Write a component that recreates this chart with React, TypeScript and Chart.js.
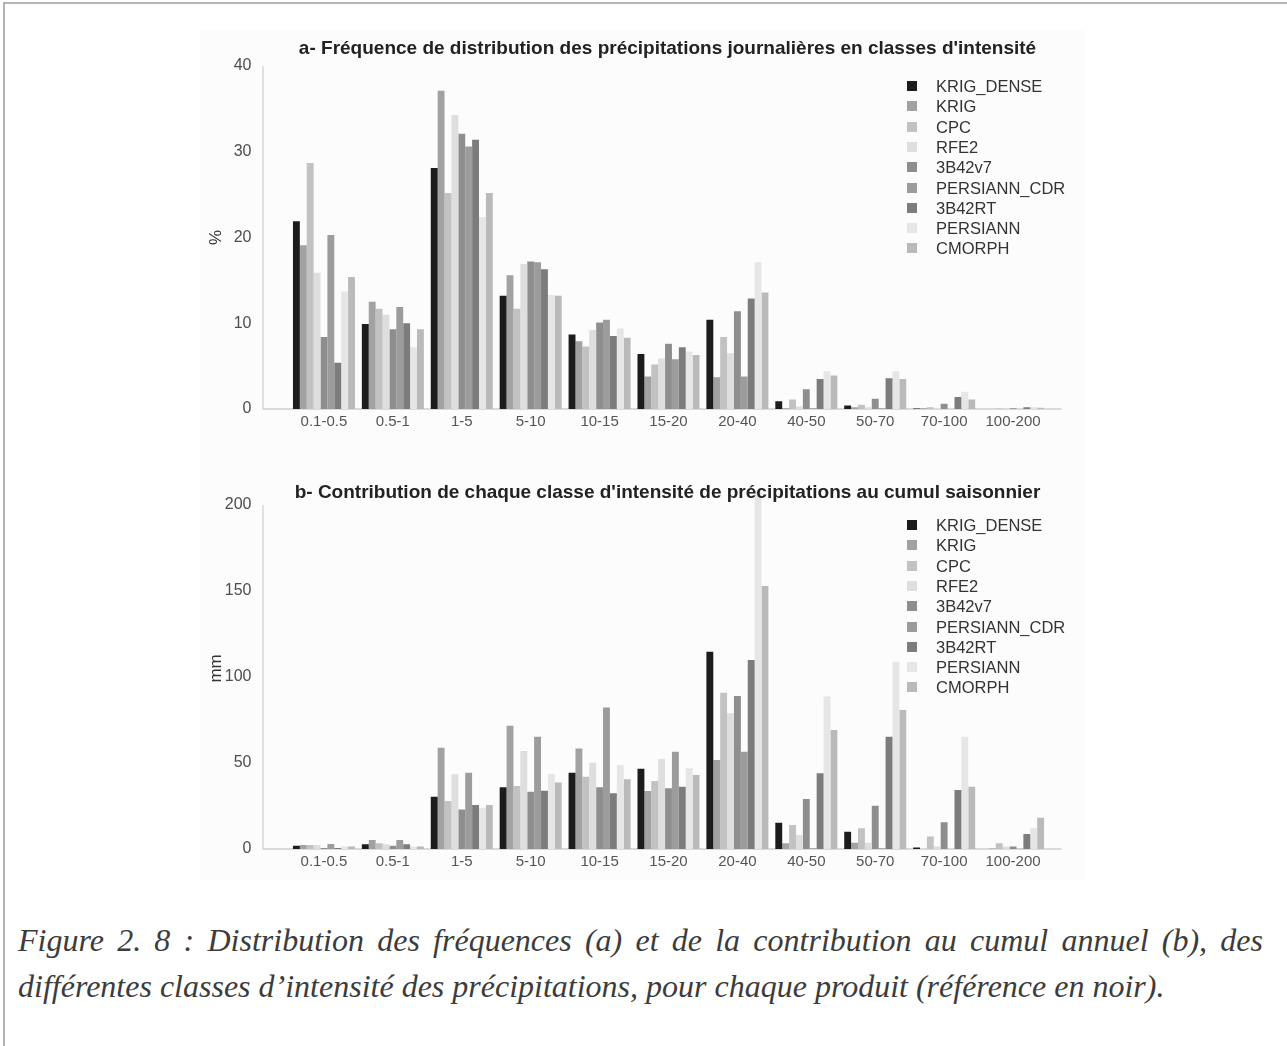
import React, { useEffect, useRef } from "react";
import { Chart, registerables } from "chart.js";

Chart.register(...registerables);

// ---------- DATA ----------
const categories = ["0.1-0.5", "0.5-1", "1-5", "5-10", "10-15", "15-20", "20-40", "40-50", "50-70", "70-100", "100-200"];

const seriesNames = ["KRIG_DENSE", "KRIG", "CPC", "RFE2", "3B42v7", "PERSIANN_CDR", "3B42RT", "PERSIANN", "CMORPH"];
const seriesColors = ["#1c1c1c", "#a2a2a2", "#c2c2c2", "#dedede", "#8e8e8e", "#9c9c9c", "#7c7c7c", "#e6e6e6", "#bababa"];

// a- frequency (%)
const freqKrigDense = [21.9, 9.9, 28.1, 13.2, 8.7, 6.4, 10.4, 0.9, 0.4, 0.05, 0.0];
const freqKrig = [19.1, 12.5, 37.1, 15.6, 7.9, 3.8, 3.7, 0.1, 0.2, 0.1, 0.0];
const freqCpc = [28.7, 11.7, 25.2, 11.7, 7.3, 5.2, 8.4, 1.1, 0.5, 0.2, 0.05];
const freqRfe2 = [15.9, 11.0, 34.3, 16.9, 9.2, 5.9, 6.5, 0.3, 0.2, 0.1, 0.05];
const freq3B42v7 = [8.4, 9.3, 32.1, 17.2, 10.1, 7.6, 11.4, 2.3, 1.2, 0.6, 0.1];
const freqPersiannCdr = [20.3, 11.9, 30.6, 17.1, 10.4, 5.8, 3.8, 0.1, 0.1, 0.0, 0.0];
const freq3B42RT = [5.4, 10.0, 31.4, 16.3, 8.5, 7.2, 12.9, 3.5, 3.6, 1.4, 0.2];
const freqPersiann = [13.7, 7.2, 22.4, 13.3, 9.4, 6.7, 17.1, 4.4, 4.4, 2.0, 0.2];
const freqCmorph = [15.4, 9.3, 25.2, 13.2, 8.3, 6.3, 13.6, 3.9, 3.5, 1.1, 0.15];

// b- contribution to seasonal total (mm)
const contribKrigDense = [1.9, 2.7, 30.4, 35.9, 44.4, 46.7, 114.7, 15.3, 10.1, 0.8, 0.0];
const contribKrig = [2.3, 5.2, 58.9, 71.7, 58.5, 33.7, 51.7, 3.3, 3.7, 0.0, 0.3];
const contribCpc = [2.3, 3.3, 27.9, 36.6, 42.0, 39.5, 90.9, 14.0, 12.0, 7.2, 3.3];
const contribRfe2 = [2.3, 2.7, 43.4, 57.0, 50.2, 52.3, 78.9, 8.1, 3.7, 1.4, 1.4];
const contrib3B42v7 = [0.6, 1.9, 23.0, 33.3, 35.9, 35.3, 88.9, 29.1, 25.2, 15.5, 1.4];
const contribPersiannCdr = [2.9, 5.2, 44.4, 65.3, 82.2, 56.6, 56.6, 0.4, 0.4, 0.0, 0.2];
const contrib3B42RT = [0.6, 2.7, 25.6, 33.9, 32.4, 36.2, 109.9, 44.0, 65.3, 34.3, 8.7];
const contribPersiann = [1.4, 1.4, 24.0, 43.6, 48.8, 46.9, 208.0, 88.6, 108.9, 65.3, 12.0];
const contribCmorph = [1.4, 1.4, 25.6, 38.6, 40.5, 43.0, 152.9, 69.2, 80.8, 36.2, 18.2];

const freqSeries = [freqKrigDense, freqKrig, freqCpc, freqRfe2, freq3B42v7, freqPersiannCdr, freq3B42RT, freqPersiann, freqCmorph];
const contribSeries = [contribKrigDense, contribKrig, contribCpc, contribRfe2, contrib3B42v7, contribPersiannCdr, contrib3B42RT, contribPersiann, contribCmorph];

const freqTicks = [0, 10, 20, 30, 40];
const contribTicks = [0, 50, 100, 150, 200];

const titleA = "a- Fréquence de distribution des précipitations journalières en classes d'intensité";
const titleB = "b- Contribution de chaque classe d'intensité de précipitations au cumul saisonnier";
const captionLine1 = "Figure 2. 8 : Distribution des fréquences (a) et de la contribution au cumul annuel (b), des";
const captionLine2 = "différentes classes d’intensité des précipitations, pour chaque produit (référence en noir).";

// ---------- COMPONENTS ----------
type PanelProps = {
  series: number[][];
  ticks: number[];
  yMax: number;
  yTitle: string;
  canvasLeft: number;
  canvasTop: number;
  canvasWidth: number;
  canvasHeight: number;
  areaLeft: number;
  areaRight: number;
  areaTop: number;
  areaBottom: number;
};

const SANS = "'Liberation Sans', Arial, Helvetica, sans-serif";

function Panel(p: PanelProps) {
  const ref = useRef<HTMLCanvasElement | null>(null);
  useEffect(() => {
    if (!ref.current) return;
    const axisLines = {
      id: "axisLines",
      beforeDatasetsDraw(chart: any) {
        const { ctx, chartArea, scales } = chart;
        const y0 = scales.y.getPixelForValue(0);
        const yTop = scales.y.getPixelForValue(p.ticks[p.ticks.length - 1]);
        const xl = chartArea.left - 26.5;
        ctx.save();
        ctx.strokeStyle = "#d8d8d8";
        ctx.lineWidth = 1.5;
        ctx.beginPath();
        ctx.moveTo(xl, yTop);
        ctx.lineTo(xl, y0);
        ctx.stroke();
        ctx.strokeStyle = "#cfcfcf";
        ctx.beginPath();
        ctx.moveTo(xl, y0);
        ctx.lineTo(chartArea.right + 14, y0);
        ctx.stroke();
        ctx.restore();
      },
    };
    const chart = new Chart(ref.current, {
      type: "bar",
      data: {
        labels: categories,
        datasets: p.series.map((vals, i) => ({
          label: seriesNames[i],
          data: vals,
          backgroundColor: seriesColors[i],
          borderWidth: 0,
          categoryPercentage: 0.9,
          barPercentage: 1.0,
        })),
      },
      options: {
        animation: false,
        responsive: false,
        maintainAspectRatio: false,
        layout: {
          padding: {
            left: 0,
            top: p.areaTop - p.canvasTop,
            right: p.canvasWidth - (p.areaRight - p.canvasLeft),
            bottom: 0,
          },
        },
        plugins: {
          legend: { display: false },
          tooltip: { enabled: false },
          title: { display: false },
        },
        scales: {
          x: {
            type: "category",
            offset: true,
            grid: { display: false, drawTicks: false },
            border: { display: false },
            ticks: {
              color: "#555555",
              font: { family: SANS, size: 15 },
              padding: 4,
              maxRotation: 0,
              autoSkip: false,
            },
            afterFit: (s: any) => {
              s.height = p.canvasTop + p.canvasHeight - p.areaBottom;
            },
          },
          y: {
            type: "linear",
            min: 0,
            max: p.yMax,
            grid: { display: false, drawTicks: true, tickLength: 35 },
            border: { display: false },
            afterBuildTicks: (s: any) => {
              s.ticks = p.ticks.map((v) => ({ value: v }));
            },
            ticks: {
              color: "#4d4d4d",
              font: { family: SANS, size: 16 },
              padding: 3,
            },
            title: {
              display: true,
              text: p.yTitle,
              color: "#333333",
              font: { family: SANS, size: 17 },
              padding: { top: 6, bottom: 0 },
            },
            afterFit: (s: any) => {
              s.width = p.areaLeft - p.canvasLeft;
            },
          },
        },
      },
      plugins: [axisLines],
    });
    return () => chart.destroy();
  }, []);
  return (
    <canvas
      ref={ref}
      width={p.canvasWidth}
      height={p.canvasHeight}
      style={{
        position: "absolute",
        left: p.canvasLeft,
        top: p.canvasTop,
        width: p.canvasWidth,
        height: p.canvasHeight,
      }}
    />
  );
}

function Legend({ left, top }: { left: number; top: number }) {
  return (
    <div style={{ position: "absolute", left, top }}>
      {seriesNames.map((name, i) => (
        <div key={name} style={{ position: "absolute", left: 0, top: i * 20.3, height: 20, whiteSpace: "nowrap" }}>
          <div
            style={{
              position: "absolute",
              left: 0,
              top: 5,
              width: 10,
              height: 10,
              background: seriesColors[i],
            }}
          />
          <div
            style={{
              position: "absolute",
              left: 29,
              top: 0,
              lineHeight: "20px",
              fontFamily: SANS,
              fontSize: 16.5,
              color: "#333333",
            }}
          >
            {name}
          </div>
        </div>
      ))}
    </div>
  );
}

function Title({ text, top }: { text: string; top: number }) {
  return (
    <div
      style={{
        position: "absolute",
        left: 200,
        width: 935,
        top,
        textAlign: "center",
        fontFamily: SANS,
        fontWeight: "bold",
        fontSize: 19,
        lineHeight: "22px",
        color: "#222222",
        whiteSpace: "nowrap",
      }}
    >
      {text}
    </div>
  );
}

export default function App() {
  return (
    <div
      style={{
        position: "absolute",
        left: 0,
        top: 0,
        width: 1287,
        height: 1046,
        background: "#ffffff",
        overflow: "hidden",
      }}
    >
      <div style={{ position: "absolute", left: 4, top: 2, width: 1283, height: 2, background: "#b4b4b4" }} />
      <div style={{ position: "absolute", left: 3, top: 2, width: 2, height: 1044, background: "#b4b4b4" }} />
      <div style={{ position: "absolute", left: 200, top: 30, width: 885, height: 850, background: "#fcfcfc" }} />

      <Panel
        series={freqSeries}
        ticks={freqTicks}
        yMax={40}
        yTitle="%"
        canvasLeft={200}
        canvasTop={46}
        canvasWidth={880}
        canvasHeight={394}
        areaLeft={289.5}
        areaRight={1047.5}
        areaTop={66}
        areaBottom={409}
      />
      <Title text={titleA} top={37} />
      <Legend left={907} top={76} />

      <Panel
        series={contribSeries}
        ticks={contribTicks}
        yMax={210}
        yTitle="mm"
        canvasLeft={200}
        canvasTop={468}
        canvasWidth={880}
        canvasHeight={412}
        areaLeft={289.5}
        areaRight={1047.5}
        areaTop={487.8}
        areaBottom={849}
      />
      <Title text={titleB} top={481} />
      <Legend left={907} top={515} />

      <div
        style={{
          position: "absolute",
          left: 18,
          width: 1245,
          top: 917,
          fontFamily: "'Liberation Serif', 'Times New Roman', serif",
          fontStyle: "italic",
          fontSize: 32,
          lineHeight: "46px",
          color: "#3c3c3c",
        }}
      >
        <div style={{ textAlign: "justify", textAlignLast: "justify" as any, whiteSpace: "nowrap" }}>{captionLine1}</div>
        <div style={{ textAlign: "left", whiteSpace: "nowrap" }}>{captionLine2}</div>
      </div>
    </div>
  );
}
